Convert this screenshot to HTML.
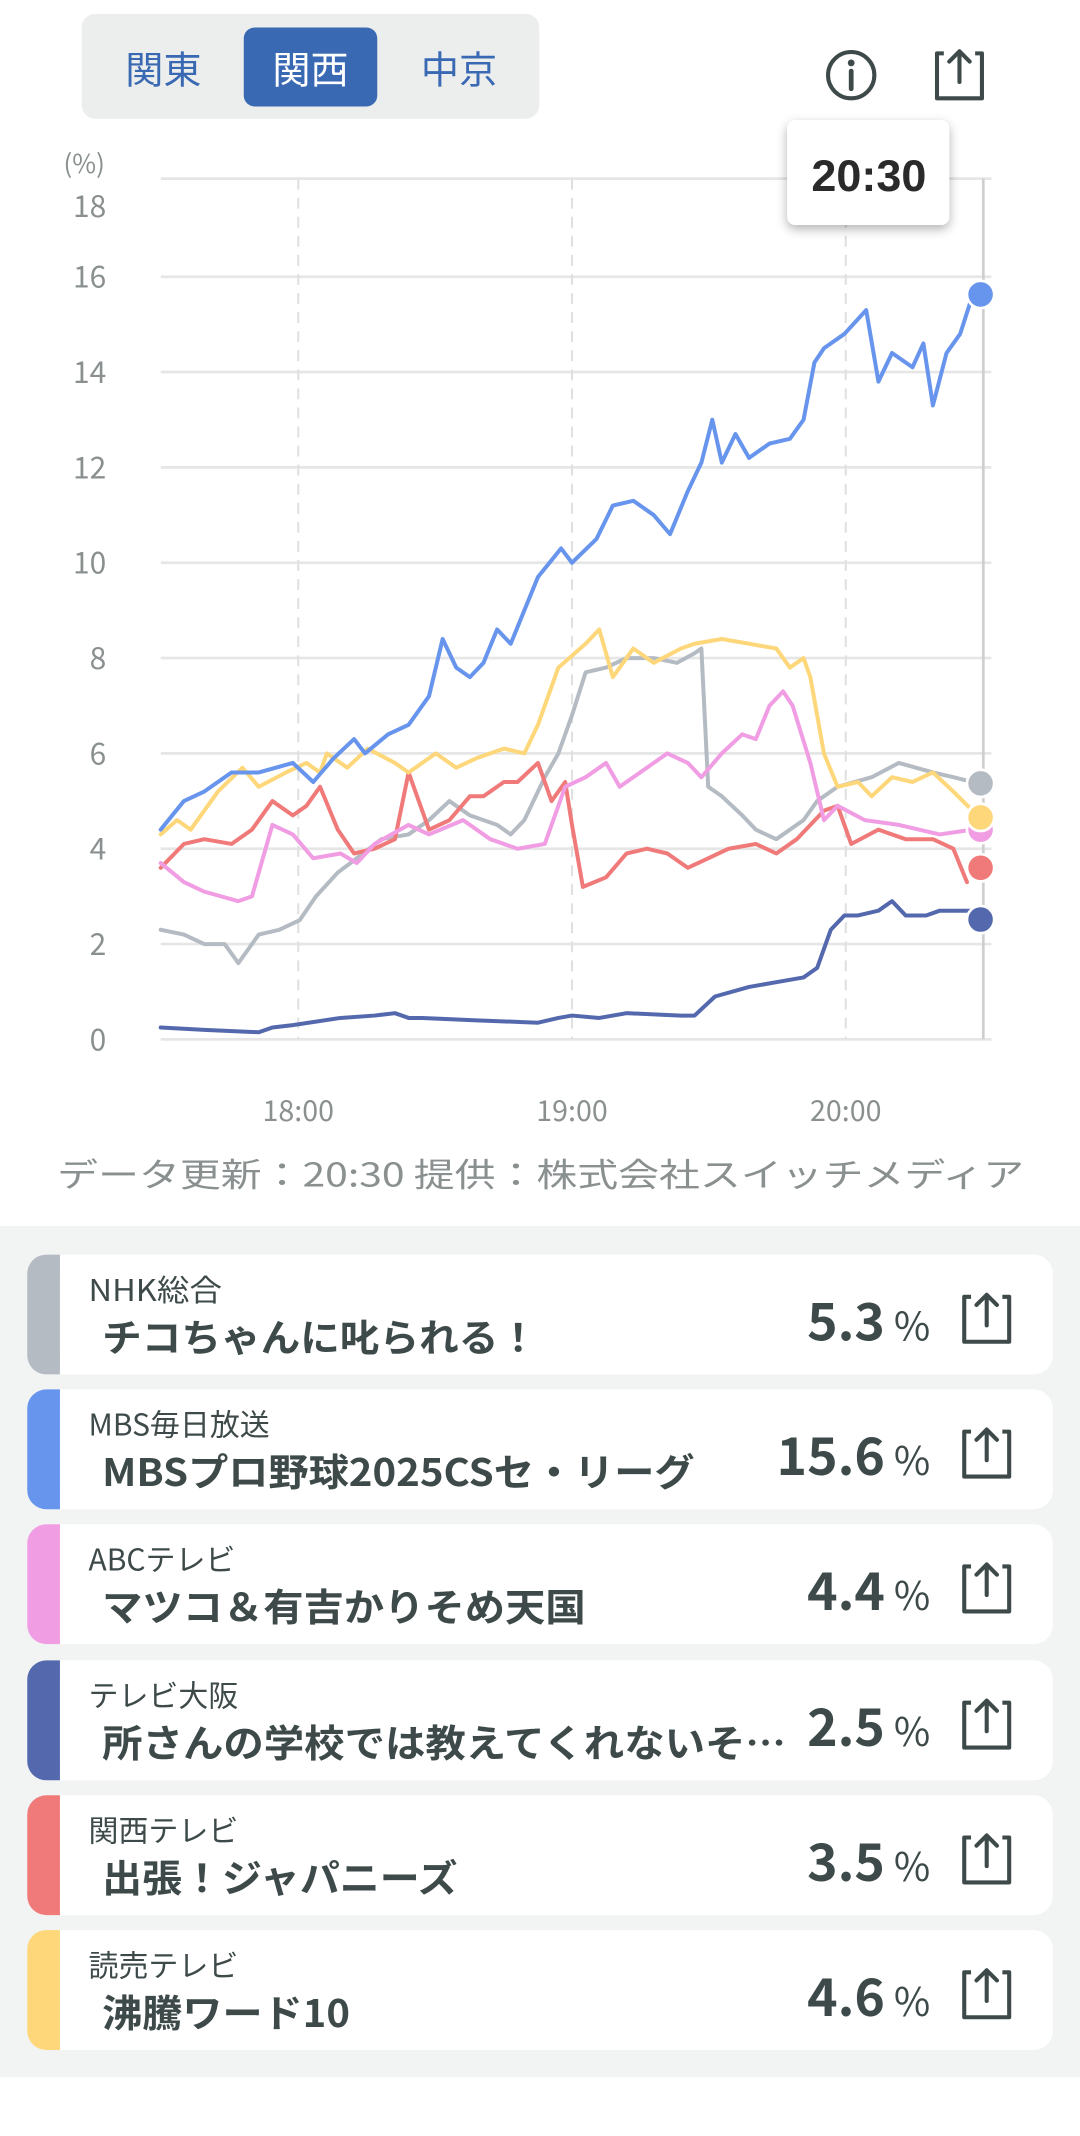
<!DOCTYPE html>
<html><head><meta charset="utf-8"><style>
html,body{margin:0;padding:0;background:#fff;}
svg{display:block;}
text{font-family:"Liberation Sans","Noto Sans CJK JP",sans-serif;}
.jp{font-family:"Noto Sans CJK JP","Liberation Sans",sans-serif;}
</style></head><body>
<svg width="1080" height="2136" viewBox="0 0 793 1568" xmlns="http://www.w3.org/2000/svg">
<defs>
<filter id="sh" x="-20%" y="-20%" width="140%" height="150%"><feDropShadow dx="0" dy="3" stdDeviation="4" flood-color="#000" flood-opacity="0.3"/></filter>
<g id="share"><path d="M8,3 H3 V36 H36 V3 H31" fill="none" stroke="#3e4a4a" stroke-width="3" stroke-linejoin="round"/><path d="M19.5,24 V2 M12,9 L19.5,1.5 L27,9" fill="none" stroke="#3e4a4a" stroke-width="3" stroke-linecap="round" stroke-linejoin="round"/></g>
</defs>
<rect x="60" y="10" width="336" height="77" rx="10" fill="#eceeed"/>
<rect x="179" y="20" width="98" height="58" rx="8" fill="#3a69b4"/>
<text class="jp" x="120" y="61" font-size="28" fill="#3a69b4" text-anchor="middle">関東</text>
<text class="jp" x="228" y="61" font-size="28" fill="#fff" text-anchor="middle">関西</text>
<text class="jp" x="337" y="61" font-size="28" fill="#3a69b4" text-anchor="middle">中京</text>
<circle cx="625" cy="55" r="17" fill="none" stroke="#3e4a4a" stroke-width="3"/>
<circle cx="625" cy="46" r="2.5" fill="#3e4a4a"/>
<line x1="625" y1="52" x2="625" y2="65" stroke="#3e4a4a" stroke-width="3.5" stroke-linecap="round"/>
<use href="#share" x="685" y="36"/>
<g stroke="#e6e6e6" stroke-width="2">
<line x1="118" y1="131" x2="728" y2="131"/><line x1="118" y1="203" x2="728" y2="203"/><line x1="118" y1="273" x2="728" y2="273"/><line x1="118" y1="343" x2="728" y2="343"/><line x1="118" y1="413" x2="728" y2="413"/><line x1="118" y1="483" x2="728" y2="483"/><line x1="118" y1="553" x2="728" y2="553"/><line x1="118" y1="623" x2="728" y2="623"/><line x1="118" y1="693" x2="728" y2="693"/><line x1="118" y1="763" x2="728" y2="763"/>
</g>
<g stroke="#e0e0e0" stroke-width="1.5" stroke-dasharray="8 6">
<line x1="219" y1="131" x2="219" y2="763"/><line x1="420" y1="131" x2="420" y2="763"/><line x1="621" y1="131" x2="621" y2="763"/>
</g>
<line x1="722" y1="131" x2="722" y2="763" stroke="#cfcfcf" stroke-width="2"/>
<g class="jp" font-size="22" fill="#8a9090" text-anchor="end">
<text class="jp" x="77" y="127" font-size="19">(%)</text>
<text class="jp" x="78" y="159">18</text><text class="jp" x="78" y="211">16</text><text class="jp" x="78" y="281">14</text><text class="jp" x="78" y="351">12</text><text class="jp" x="78" y="421">10</text><text class="jp" x="78" y="491">8</text><text class="jp" x="78" y="561">6</text><text class="jp" x="78" y="631">4</text><text class="jp" x="78" y="701">2</text><text class="jp" x="78" y="771">0</text>
</g>
<g font-size="21" fill="#8a9090" text-anchor="middle">
<text class="jp" x="219" y="823">18:00</text><text class="jp" x="420" y="823">19:00</text><text class="jp" x="621" y="823">20:00</text>
</g>
<g transform="translate(0,763) scale(1,-35)" fill="none" stroke-width="4" stroke-linejoin="round" stroke-linecap="round">
<polyline vector-effect="non-scaling-stroke" stroke="#5468ad" points="118,0.25 150,0.2 190,0.15 200,0.25 215,0.3 250,0.45 275,0.5 290,0.55 300,0.45 310,0.45 350,0.4 395,0.35 410,0.45 420,0.5 440,0.45 460,0.55 500,0.5 510,0.5 525,0.9 550,1.1 570,1.2 590,1.3 600,1.5 610,2.3 620,2.6 630,2.6 645,2.7 655,2.9 665,2.6 680,2.6 690,2.7 712,2.7"/>
<polyline vector-effect="non-scaling-stroke" stroke="#b4bbc2" points="118,2.3 135,2.2 150,2.0 165,2.0 175,1.6 190,2.2 205,2.3 220,2.5 232,3.0 248,3.5 262,3.8 280,4.2 300,4.3 315,4.6 330,5.0 345,4.7 365,4.5 375,4.3 385,4.6 400,5.5 410,6.0 420,6.8 430,7.7 445,7.8 460,8.0 480,8.0 497,7.9 510,8.1 515,8.2 520,5.3 530,5.1 545,4.7 555,4.4 570,4.2 590,4.6 600,5.0 615,5.3 640,5.5 660,5.8 685,5.6 700,5.5 714,5.4"/>
<polyline vector-effect="non-scaling-stroke" stroke="#f07a7a" points="118,3.6 135,4.1 150,4.2 170,4.1 185,4.4 200,5.0 215,4.7 225,4.9 235,5.3 248,4.4 260,3.9 275,4.0 290,4.2 300,5.6 315,4.4 330,4.6 345,5.1 355,5.1 370,5.4 380,5.4 395,5.8 405,5.0 415,5.4 420,4.5 428,3.2 445,3.4 460,3.9 475,4.0 490,3.9 505,3.6 520,3.8 535,4.0 555,4.1 570,3.9 585,4.2 605,4.8 615,4.9 625,4.1 645,4.4 665,4.2 685,4.2 700,4.0 710,3.3"/>
<polyline vector-effect="non-scaling-stroke" stroke="#f09de3" points="118,3.7 135,3.3 150,3.1 175,2.9 185,3.0 200,4.5 215,4.3 230,3.8 250,3.9 262,3.7 275,4.1 300,4.5 315,4.3 340,4.6 360,4.2 380,4.0 400,4.1 415,5.3 430,5.5 445,5.8 455,5.3 470,5.6 490,6.0 505,5.8 515,5.5 530,6.0 545,6.4 555,6.3 565,7.0 575,7.3 582,7.0 595,5.8 605,4.6 615,4.9 635,4.6 660,4.5 690,4.3 714,4.4"/>
<polyline vector-effect="non-scaling-stroke" stroke="#fdd77a" points="118,4.3 130,4.6 140,4.4 160,5.2 178,5.7 190,5.3 210,5.6 225,5.8 235,5.6 240,6.0 255,5.7 270,6.1 290,5.8 300,5.6 320,6.0 335,5.7 350,5.9 370,6.1 385,6.0 395,6.6 410,7.8 430,8.3 440,8.6 450,7.6 465,8.2 480,7.9 500,8.2 510,8.3 530,8.4 550,8.3 570,8.2 580,7.8 590,8.0 595,7.6 605,6.0 615,5.3 630,5.4 640,5.1 655,5.5 670,5.4 685,5.6 700,5.2 714,4.8"/>
<polyline vector-effect="non-scaling-stroke" stroke="#6794ec" points="118,4.4 135,5.0 150,5.2 170,5.6 190,5.6 215,5.8 230,5.4 245,5.9 260,6.3 268,6.0 285,6.4 300,6.6 315,7.2 325,8.4 335,7.8 345,7.6 355,7.9 365,8.6 375,8.3 385,9.0 395,9.7 412,10.3 420,10.0 438,10.5 450,11.2 465,11.3 480,11.0 492,10.6 505,11.5 515,12.1 523,13.0 530,12.1 540,12.7 550,12.2 565,12.5 580,12.6 590,13.0 598,14.2 605,14.5 620,14.8 636,15.3 645,13.8 655,14.4 670,14.1 678,14.6 685,13.3 695,14.4 705,14.8 714,15.6"/>
</g>
<g stroke="#fff" stroke-width="2">
<circle cx="720" cy="609" r="10" fill="#f09de3"/>
<circle cx="720" cy="575" r="10" fill="#b4bbc2"/>
<circle cx="720" cy="600" r="10" fill="#fdd77a"/>
<circle cx="720" cy="637" r="10" fill="#f07a7a"/>
<circle cx="720" cy="675" r="10" fill="#5468ad"/>
<circle cx="720" cy="216" r="10" fill="#6794ec"/>
</g>
<rect x="578" y="88" width="119" height="77" rx="6" fill="#fff" filter="url(#sh)"/>
<text x="638" y="140" font-size="33" font-weight="bold" fill="#2a2a2a" text-anchor="middle">20:30</text>
<text class="jp" x="42" y="871" font-size="24" fill="#8a9090" textLength="710" lengthAdjust="spacingAndGlyphs">データ更新：20:30  提供：株式会社スイッチメディア</text>
<rect x="0" y="900" width="793" height="625" fill="#f2f4f3"/>
<g transform="translate(0,921)">
<rect x="20" y="0" width="753" height="88" rx="14" fill="#fff"/><path d="M34,0 H44 V88 H34 A14,14 0 0 1 20,74 V14 A14,14 0 0 1 34,0Z" fill="#b4bbc2"/>
<text class="jp" x="65" y="34" font-size="22" fill="#3e4a4a" textLength="98" lengthAdjust="spacingAndGlyphs">NHK総合</text>
<text class="jp" x="75" y="71" font-size="28" font-weight="bold" fill="#3e4a4a" textLength="320" lengthAdjust="spacingAndGlyphs">チコちゃんに叱られる！</text>
<text class="jp" x="683" y="63" text-anchor="end" font-weight="bold" fill="#3e4a4a"><tspan font-size="38">5.3</tspan><tspan font-size="29" font-weight="normal"> %</tspan></text>
<use href="#share" x="705" y="28"/></g>
<g transform="translate(0,1020)">
<rect x="20" y="0" width="753" height="88" rx="14" fill="#fff"/><path d="M34,0 H44 V88 H34 A14,14 0 0 1 20,74 V14 A14,14 0 0 1 34,0Z" fill="#6794ec"/>
<text class="jp" x="65" y="34" font-size="22" fill="#3e4a4a">MBS毎日放送</text>
<text class="jp" x="75" y="71" font-size="28" font-weight="bold" fill="#3e4a4a" textLength="435" lengthAdjust="spacingAndGlyphs">MBSプロ野球2025CSセ・リーグ</text>
<text class="jp" x="683" y="63" text-anchor="end" font-weight="bold" fill="#3e4a4a"><tspan font-size="38">15.6</tspan><tspan font-size="29" font-weight="normal"> %</tspan></text>
<use href="#share" x="705" y="28"/></g>
<g transform="translate(0,1119)">
<rect x="20" y="0" width="753" height="88" rx="14" fill="#fff"/><path d="M34,0 H44 V88 H34 A14,14 0 0 1 20,74 V14 A14,14 0 0 1 34,0Z" fill="#f09de3"/>
<text class="jp" x="65" y="34" font-size="22" fill="#3e4a4a">ABCテレビ</text>
<text class="jp" x="75" y="71" font-size="28" font-weight="bold" fill="#3e4a4a" textLength="355" lengthAdjust="spacingAndGlyphs">マツコ＆有吉かりそめ天国</text>
<text class="jp" x="683" y="63" text-anchor="end" font-weight="bold" fill="#3e4a4a"><tspan font-size="38">4.4</tspan><tspan font-size="29" font-weight="normal"> %</tspan></text>
<use href="#share" x="705" y="28"/></g>
<g transform="translate(0,1219)">
<rect x="20" y="0" width="753" height="88" rx="14" fill="#fff"/><path d="M34,0 H44 V88 H34 A14,14 0 0 1 20,74 V14 A14,14 0 0 1 34,0Z" fill="#5468ad"/>
<text class="jp" x="65" y="34" font-size="22" fill="#3e4a4a">テレビ大阪</text>
<text class="jp" x="75" y="71" font-size="28" font-weight="bold" fill="#3e4a4a" textLength="502" lengthAdjust="spacingAndGlyphs">所さんの学校では教えてくれないそ…</text>
<text class="jp" x="683" y="63" text-anchor="end" font-weight="bold" fill="#3e4a4a"><tspan font-size="38">2.5</tspan><tspan font-size="29" font-weight="normal"> %</tspan></text>
<use href="#share" x="705" y="28"/></g>
<g transform="translate(0,1318)">
<rect x="20" y="0" width="753" height="88" rx="14" fill="#fff"/><path d="M34,0 H44 V88 H34 A14,14 0 0 1 20,74 V14 A14,14 0 0 1 34,0Z" fill="#f07a7a"/>
<text class="jp" x="65" y="34" font-size="22" fill="#3e4a4a">関西テレビ</text>
<text class="jp" x="75" y="71" font-size="28" font-weight="bold" fill="#3e4a4a" textLength="261" lengthAdjust="spacingAndGlyphs">出張！ジャパニーズ</text>
<text class="jp" x="683" y="63" text-anchor="end" font-weight="bold" fill="#3e4a4a"><tspan font-size="38">3.5</tspan><tspan font-size="29" font-weight="normal"> %</tspan></text>
<use href="#share" x="705" y="28"/></g>
<g transform="translate(0,1417)">
<rect x="20" y="0" width="753" height="88" rx="14" fill="#fff"/><path d="M34,0 H44 V88 H34 A14,14 0 0 1 20,74 V14 A14,14 0 0 1 34,0Z" fill="#fdd77a"/>
<text class="jp" x="65" y="34" font-size="22" fill="#3e4a4a">読売テレビ</text>
<text class="jp" x="75" y="71" font-size="28" font-weight="bold" fill="#3e4a4a" textLength="182" lengthAdjust="spacingAndGlyphs">沸騰ワード10</text>
<text class="jp" x="683" y="63" text-anchor="end" font-weight="bold" fill="#3e4a4a"><tspan font-size="38">4.6</tspan><tspan font-size="29" font-weight="normal"> %</tspan></text>
<use href="#share" x="705" y="28"/></g>
</svg>
</body></html>
